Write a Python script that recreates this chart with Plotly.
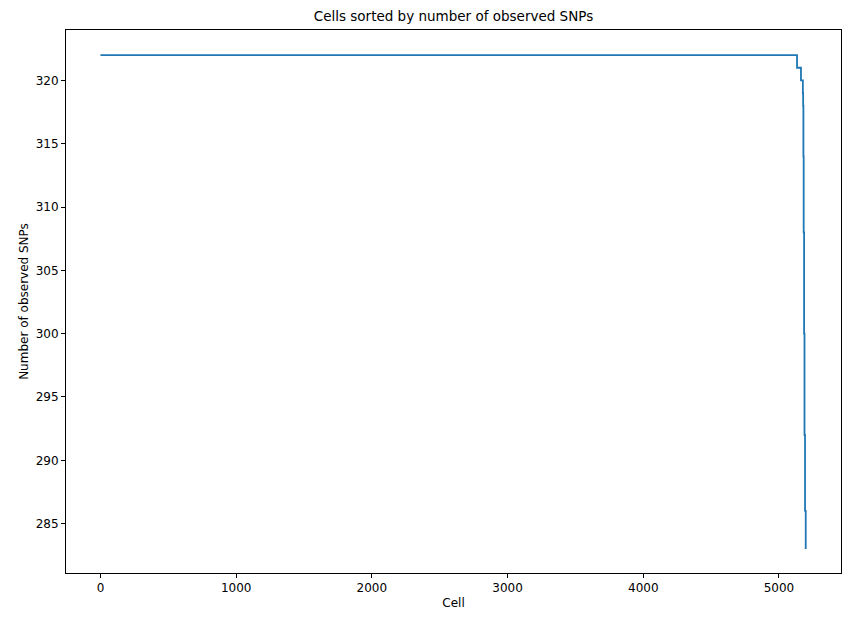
import plotly.graph_objects as go

# step breakpoints (cell index where a new count starts) and counts
cells = [0, 5133, 5162, 5176, 5178, 5180, 5182, 5185, 5188, 5192, 5197]
snps = [322, 321, 320, 319, 318, 314, 308, 300, 292, 286, 283]

fig = go.Figure()
fig.add_trace(go.Scatter(x=cells, y=snps, mode="lines", line_shape="hv",
                         line=dict(color="#1f77b4", width=1.8)))

ax = dict(showgrid=False, zeroline=False, showline=True, mirror=True, linecolor="black",
          ticks="outside", ticklen=4, tickcolor="black", automargin=False,
          tickfont=dict(size=12, color="black"))
# page body has an 8px margin, so the figure is sized to fit inside the window
fig.update_layout(
    width=834, height=606, plot_bgcolor="white", paper_bgcolor="white",
    font=dict(family="DejaVu Sans", color="black"),
    margin=dict(l=58, r=1, t=22, b=41, autoexpand=False),
    showlegend=False,
    title=dict(text="Cells sorted by number of observed SNPs", x=0.5, xanchor="center",
               xref="paper", yref="container", y=1.0, yanchor="top", pad=dict(t=4),
               font=dict(size=13.5)),
    xaxis=dict(ax, range=[-254, 5457], tickvals=[0, 1000, 2000, 3000, 4000, 5000],
               title=dict(text="Cell", font=dict(size=12), standoff=4)),
    yaxis=dict(ax, range=[281.1, 323.98], tickvals=[285, 290, 295, 300, 305, 310, 315, 320],
               title=dict(text="Number of observed SNPs", font=dict(size=12), standoff=4)),
)
fig.write_html("out.html")
